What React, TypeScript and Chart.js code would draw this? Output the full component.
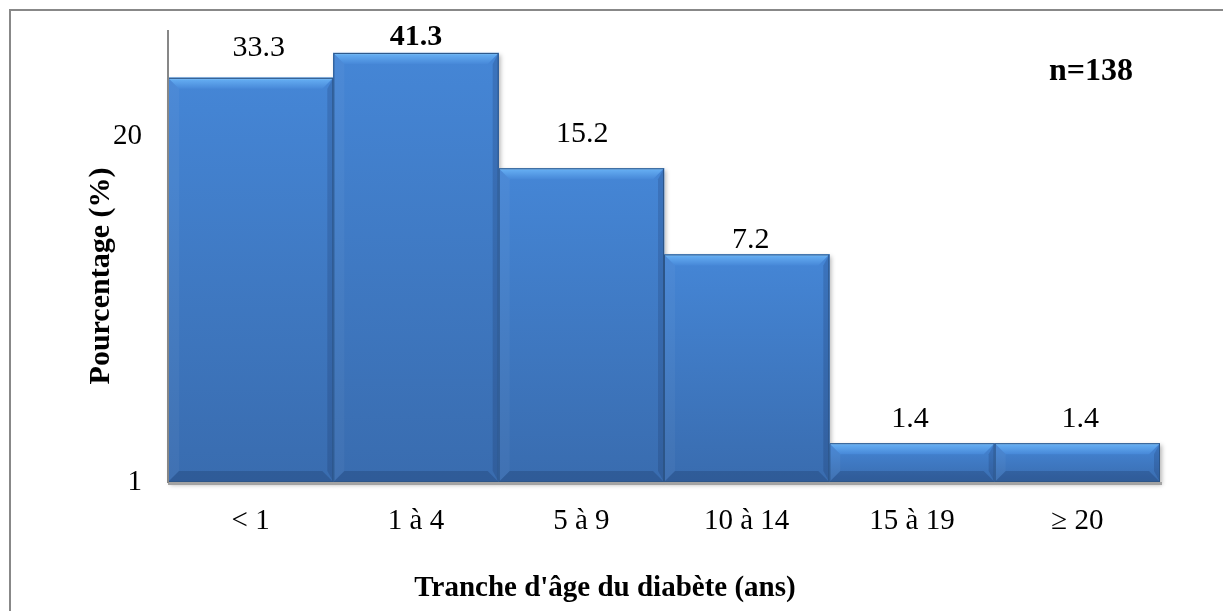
import React, { useEffect, useRef } from "react";
import { Chart, registerables } from "chart.js";

Chart.register(...registerables);

// Age-at-diagnosis groups and their share of patients (%)
const categories = ["< 1", "1 à 4", "5 à 9", "10 à 14", "15 à 19", "≥ 20"];
const percentages = [33.3, 41.3, 15.2, 7.2, 1.4, 1.4];
const yTickValues = [1, 20];
const yMin = 1;
const yMax = 50;
const sampleSize = "n=138";
const xAxisTitle = "Tranche d'âge du diabète (ans)";
const yAxisTitle = "Pourcentage (%)";

// Value label placement: horizontal shift and gap between bar top and text baseline
const labelShiftX = [8, 0, 1, 4, -2, 3];
const labelGap = [22, 8, 26, 6, 16, 16];
const labelBold = [false, true, false, false, false, false];

const W = 1223;
const H = 611;
const SERIF = '"Liberation Serif", "Times New Roman", serif';

const framePlugin = {
  id: "frame",
  beforeDraw(chart: any) {
    const { ctx } = chart;
    ctx.save();
    ctx.fillStyle = "#ffffff";
    ctx.fillRect(0, 0, chart.width, chart.height);
    ctx.fillStyle = "#888888";
    ctx.fillRect(9, 9, chart.width, 2);
    ctx.fillRect(9, 9, 2, chart.height);
    ctx.restore();
  },
};

const bevelBarsPlugin = {
  id: "bevelBars",
  beforeDatasetsDraw(chart: any) {
    const { ctx } = chart;
    const meta = chart.getDatasetMeta(0);
    ctx.save();
    ctx.filter = "blur(2px)";
    ctx.fillStyle = "rgba(0,0,0,0.28)";
    meta.data.forEach((el: any) => {
      const l = el.x - el.width / 2;
      ctx.fillRect(l + 2, el.y + 2, el.width, el.base - el.y + 1);
    });
    ctx.restore();
  },
  afterDatasetsDraw(chart: any) {
    const { ctx, chartArea } = chart;
    const meta = chart.getDatasetMeta(0);
    ctx.save();

    meta.data.forEach((el: any, i: number) => {
      const l = el.x - el.width / 2;
      const r = el.x + el.width / 2;
      const t = el.y;
      const b = el.base;
      const bv = Math.min(11, (b - t) / 2 - 1);

      const body = ctx.createLinearGradient(0, t, 0, b);
      body.addColorStop(0, "#4586d6");
      body.addColorStop(1, "#396caf");
      ctx.fillStyle = body;
      ctx.fillRect(l, t, r - l, b - t);

      // top bevel
      const top = ctx.createLinearGradient(0, t, 0, t + bv);
      top.addColorStop(0, "#94d0fb");
      top.addColorStop(0.2, "#62aaf0");
      top.addColorStop(1, "#4788d8");
      ctx.fillStyle = top;
      ctx.beginPath();
      ctx.moveTo(l, t);
      ctx.lineTo(r, t);
      ctx.lineTo(r - bv, t + bv);
      ctx.lineTo(l + bv, t + bv);
      ctx.closePath();
      ctx.fill();

      // left bevel
      ctx.fillStyle = "rgba(255,255,255,0.04)";
      ctx.beginPath();
      ctx.moveTo(l, t);
      ctx.lineTo(l + bv, t + bv);
      ctx.lineTo(l + bv, b - bv);
      ctx.lineTo(l, b);
      ctx.closePath();
      ctx.fill();

      // right bevel
      const rb = Math.min(6, bv);
      ctx.fillStyle = "rgba(10,25,60,0.16)";
      ctx.beginPath();
      ctx.moveTo(r, t);
      ctx.lineTo(r, b);
      ctx.lineTo(r - rb, b - bv);
      ctx.lineTo(r - rb, t + bv);
      ctx.closePath();
      ctx.fill();

      // bottom bevel
      ctx.fillStyle = "rgba(10,25,60,0.2)";
      ctx.beginPath();
      ctx.moveTo(l, b);
      ctx.lineTo(r, b);
      ctx.lineTo(r - bv, b - bv);
      ctx.lineTo(l + bv, b - bv);
      ctx.closePath();
      ctx.fill();

      ctx.strokeStyle = "#2c5588";
      ctx.lineWidth = 1;
      ctx.strokeRect(l + 0.5, t + 0.5, r - l - 1, b - t - 1);

      // value label
      ctx.fillStyle = "#000000";
      ctx.font = `${labelBold[i] ? "bold " : ""}30px ${SERIF}`;
      ctx.textAlign = "center";
      ctx.textBaseline = "alphabetic";
      ctx.fillText(percentages[i].toFixed(1), el.x + labelShiftX[i], t - labelGap[i]);
    });

    // category axis line
    ctx.fillStyle = "#a3a3a3";
    ctx.fillRect(chartArea.left, chartArea.bottom, chartArea.right - chartArea.left + 2, 3);

    // sample size note
    ctx.fillStyle = "#000000";
    ctx.font = `bold 32px ${SERIF}`;
    ctx.textAlign = "center";
    ctx.textBaseline = "alphabetic";
    ctx.fillText(sampleSize, 1091, 80);

    // axis titles
    ctx.font = `bold 29px ${SERIF}`;
    ctx.fillText(xAxisTitle, 605, 596);

    ctx.save();
    ctx.translate(101, 276);
    ctx.rotate(-Math.PI / 2);
    ctx.font = `bold 30px ${SERIF}`;
    ctx.textBaseline = "middle";
    ctx.fillText(yAxisTitle, 0, 0);
    ctx.restore();

    ctx.restore();
  },
};

export default function App() {
  const canvasRef = useRef<HTMLCanvasElement | null>(null);

  useEffect(() => {
    const canvas = canvasRef.current;
    if (!canvas) return;
    const chart = new Chart(canvas, {
      type: "bar",
      data: {
        labels: categories,
        datasets: [
          {
            data: percentages,
            backgroundColor: "#4180d0",
            borderWidth: 0,
            barPercentage: 1,
            categoryPercentage: 1,
          },
        ],
      },
      options: {
        responsive: false,
        animation: false,
        devicePixelRatio: 1,
        layout: { padding: { top: 31, right: 63, left: 0, bottom: 0 } },
        plugins: {
          legend: { display: false },
          tooltip: { enabled: false },
        },
        scales: {
          x: {
            grid: { display: false, drawTicks: false },
            border: { display: false },
            ticks: {
              color: "#000000",
              font: { family: SERIF, size: 29 },
              padding: 22,
              maxRotation: 0,
              autoSkip: false,
            },
            afterFit: (s: any) => {
              s.height = 129;
              s.paddingLeft = 0;
              s.paddingRight = 0;
            },
          },
          y: {
            type: "logarithmic",
            min: yMin,
            max: yMax,
            grid: { display: false, drawTicks: false },
            border: { display: true, color: "#878787", width: 2, z: 1 },
            ticks: {
              color: "#000000",
              font: { family: SERIF, size: 29 },
              padding: 26,
              callback: (v: any) => String(v),
            },
            afterBuildTicks: (s: any) => {
              s.ticks = yTickValues.map((v) => ({ value: v }));
            },
            afterFit: (s: any) => {
              s.width = 168;
              s.paddingTop = 0;
              s.paddingBottom = 0;
            },
          },
        },
      },
      plugins: [framePlugin, bevelBarsPlugin],
    });
    return () => chart.destroy();
  }, []);

  return (
    <div style={{ position: "fixed", left: 0, top: 0, width: W, height: H, background: "#fff" }}>
      <canvas ref={canvasRef} width={W} height={H} style={{ display: "block" }} />
    </div>
  );
}
